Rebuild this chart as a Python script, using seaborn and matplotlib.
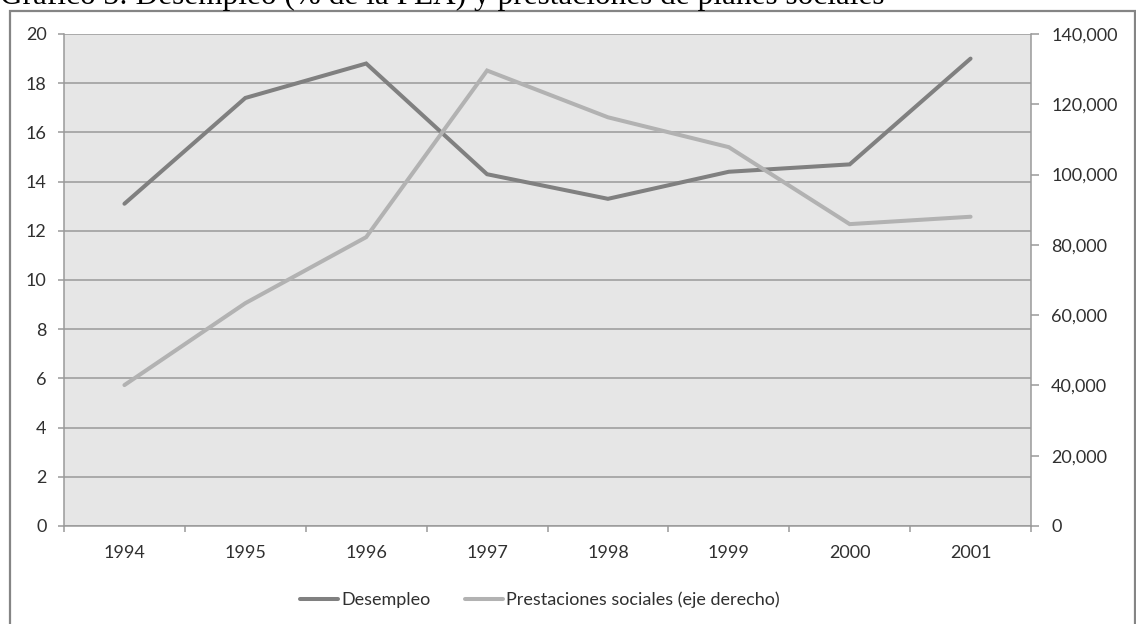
import numpy as np
import pandas as pd
import matplotlib
matplotlib.use("Agg")
import matplotlib.pyplot as plt
from matplotlib.patches import Rectangle
from matplotlib.ticker import FuncFormatter, FixedLocator
import seaborn as sns

# Data
years = ["1994", "1995", "1996", "1997", "1998", "1999", "2000", "2001"]
desempleo = [13.1, 17.4, 18.8, 14.3, 13.3, 14.4, 14.7, 19.0]
prestaciones = [40100, 63400, 82200, 129600, 116300, 107800, 85900, 88000]
left_ticks = list(range(0, 21, 2))
right_ticks = list(range(0, 140001, 20000))

title = "Gráfico 3: Desempleo (% de la PEA) y prestaciones de planes sociales"
label_des = "Desempleo"
label_pre = "Prestaciones sociales (eje derecho)"

sns.set_theme(style="white")
plt.rcParams["font.family"] = ["Lato", "DejaVu Sans"]

W, H = 1136, 624
fig = plt.figure(figsize=(W / 100, H / 100), dpi=100)
fig.patch.set_facecolor("white")

# plot area in pixel terms
left_px, right_px, top_px, bottom_px = 64, 1031, 34, 526
ax = fig.add_axes([left_px / W, 1 - bottom_px / H,
                   (right_px - left_px) / W, (bottom_px - top_px) / H])
ax.set_facecolor("#e6e6e6")

df = pd.DataFrame({"pos": np.arange(len(years)),
                   "desempleo": desempleo,
                   "prestaciones": prestaciones})

dark = "#808080"
light = "#b2b2b2"
grid_c = "#9a9a9a"
text_c = "#303030"
lw = 2.9
fs = 13

sns.lineplot(data=df, x="pos", y="desempleo", ax=ax, color=dark, lw=lw,
             solid_capstyle="round", solid_joinstyle="miter", label=label_des,
             legend=False, zorder=3)

ax2 = ax.twinx()
sns.lineplot(data=df, x="pos", y="prestaciones", ax=ax2, color=light, lw=lw,
             solid_capstyle="round", solid_joinstyle="miter", label=label_pre,
             legend=False, zorder=3)

ax.set_xlim(-0.5, len(years) - 0.5)
ax.set_ylim(0, 20)
ax2.set_ylim(0, 140000)

# horizontal gridlines for the left axis
ax.set_yticks(left_ticks)
ax.yaxis.grid(True, color=grid_c, lw=1.1)
ax.xaxis.grid(False)
ax.set_axisbelow(True)

ax.set_xticks(np.arange(len(years)))
ax.set_xticklabels(years)
ax.xaxis.set_minor_locator(FixedLocator(np.arange(-0.5, len(years), 1.0)))
ax.tick_params(axis="x", which="major", length=0, pad=14, labelsize=fs,
               labelcolor=text_c)
ax.tick_params(axis="x", which="minor", length=4.5, width=1.1, color=grid_c,
               direction="out", bottom=True)
ax.tick_params(axis="y", which="major", length=4.5, width=1.1, color=grid_c,
               direction="out", left=True, pad=8, labelsize=fs,
               labelcolor=text_c)

ax2.set_yticks(right_ticks)
ax2.yaxis.set_major_formatter(FuncFormatter(lambda v, p: f"{int(v):,}"))
ax2.tick_params(axis="y", which="major", length=5.5, width=1.1, color=grid_c,
                direction="out", right=True, pad=9, labelsize=fs,
                labelcolor=text_c)
ax2.grid(False)

ax.set_xlabel("")
ax.set_ylabel("")
ax2.set_ylabel("")

for a in (ax, ax2):
    for side in ("top", "right", "left", "bottom"):
        a.spines[side].set_visible(False)
ax.spines["left"].set_visible(True)
ax.spines["left"].set_color(grid_c)
ax.spines["left"].set_linewidth(1.1)
ax.spines["bottom"].set_visible(True)
ax.spines["bottom"].set_color(grid_c)
ax.spines["bottom"].set_linewidth(1.1)
ax2.spines["right"].set_visible(True)
ax2.spines["right"].set_color(grid_c)
ax2.spines["right"].set_linewidth(1.1)

# legend below the plot
handles = ax.get_lines()[:1] + ax2.get_lines()[:1]
leg = fig.legend(handles, [label_des, label_pre], loc="center",
                 bbox_to_anchor=(540 / W, 1 - 600 / H), ncol=2, frameon=False,
                 fontsize=fs, handlelength=2.1, handletextpad=0.2,
                 columnspacing=1.9, labelcolor=text_c)

# chart frame
frame = Rectangle((9.5 / W, -0.1), (1135 - 9.5) / W, 1.1 - 10.5 / H,
                  transform=fig.transFigure, fill=False, edgecolor="#858585",
                  lw=1.6, zorder=0)
fig.patches.append(frame)

# title at the very top, clipped by the figure edge
fig.text(0.0, 1 - 4 / H, title, ha="left", va="baseline", fontsize=22.5,
         family=["Liberation Serif", "DejaVu Serif"], color="#000000")

fig.savefig("out.png", dpi=100, facecolor="white")
